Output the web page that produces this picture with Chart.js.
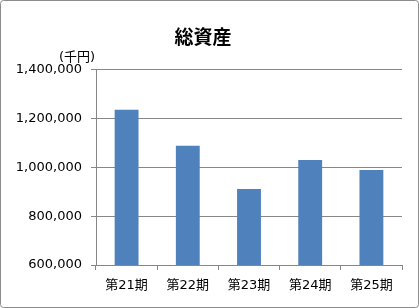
<!DOCTYPE html>
<html>
<head>
<meta charset="utf-8">
<script src="https://cdn.jsdelivr.net/npm/chart.js@4.4.1/dist/chart.umd.min.js"></script>
<style>
  html, body { margin: 0; padding: 0; background: #fff; }
  canvas { display: block; }
</style>
</head>
<body>
<canvas id="grafica" width="419" height="308"></canvas>
<script>
const periodos = ['第21期', '第22期', '第23期', '第24期', '第25期'];
const totalActivos = [1237000, 1089000, 912000, 1031000, 990000];
const ejeMin = 600000;
const ejeMax = 1400000;
const ejePaso = 200000;

const fuente = '"DejaVu Sans", "Noto Sans CJK JP", sans-serif';
const gris = '#878787';

// marco y unidad (千円)
const marco = {
  id: 'marco',
  beforeDraw(chart) {
    const c = chart.ctx;
    c.save();
    c.fillStyle = '#fff';
    c.fillRect(0, 0, chart.width, chart.height);
    c.strokeStyle = '#8c8c8c';
    c.lineWidth = 1;
    c.beginPath();
    c.roundRect(0.5, 0.5, chart.width - 1, chart.height - 1, 3);
    c.stroke();
    c.restore();
  },
  afterDraw(chart) {
    const c = chart.ctx;
    c.save();
    c.fillStyle = '#000';
    c.font = '13px ' + fuente;
    c.textAlign = 'left';
    c.textBaseline = 'middle';
    c.fillText('(千円)', 59, 58);
    c.restore();
  }
};

new Chart(document.getElementById('grafica').getContext('2d'), {
  type: 'bar',
  data: {
    labels: periodos,
    datasets: [{
      data: totalActivos,
      backgroundColor: '#4F81BD',
      borderWidth: 0,
      barPercentage: 0.39,
      categoryPercentage: 1
    }]
  },
  options: {
    responsive: false,
    animation: false,
    layout: { padding: { top: 26, left: 4, right: 17, bottom: 0 } },
    plugins: {
      legend: { display: false },
      tooltip: { enabled: false },
      title: {
        display: true,
        text: '総資産',
        color: '#000',
        font: { family: '"Noto Sans CJK JP", sans-serif', size: 19, weight: 'bold', lineHeight: 1.1 },
        padding: { top: 0, bottom: 23 }
      }
    },
    scales: {
      x: {
        afterFit: (s) => { s.height = 43; },
        grid: { drawOnChartArea: false, color: gris, tickLength: 5 },
        border: { color: gris },
        ticks: { color: '#000', font: { family: fuente, size: 13 }, padding: 8 }
      },
      y: {
        min: ejeMin,
        max: ejeMax,
        afterFit: (s) => { s.width = 92; },
        grid: { color: gris, tickLength: 5 },
        border: { color: gris },
        ticks: {
          stepSize: ejePaso,
          color: '#000',
          font: { family: fuente, size: 13 },
          padding: 9,
          callback: (v) => v.toLocaleString('en-US')
        }
      }
    }
  },
  plugins: [marco]
});
</script>
</body>
</html>
